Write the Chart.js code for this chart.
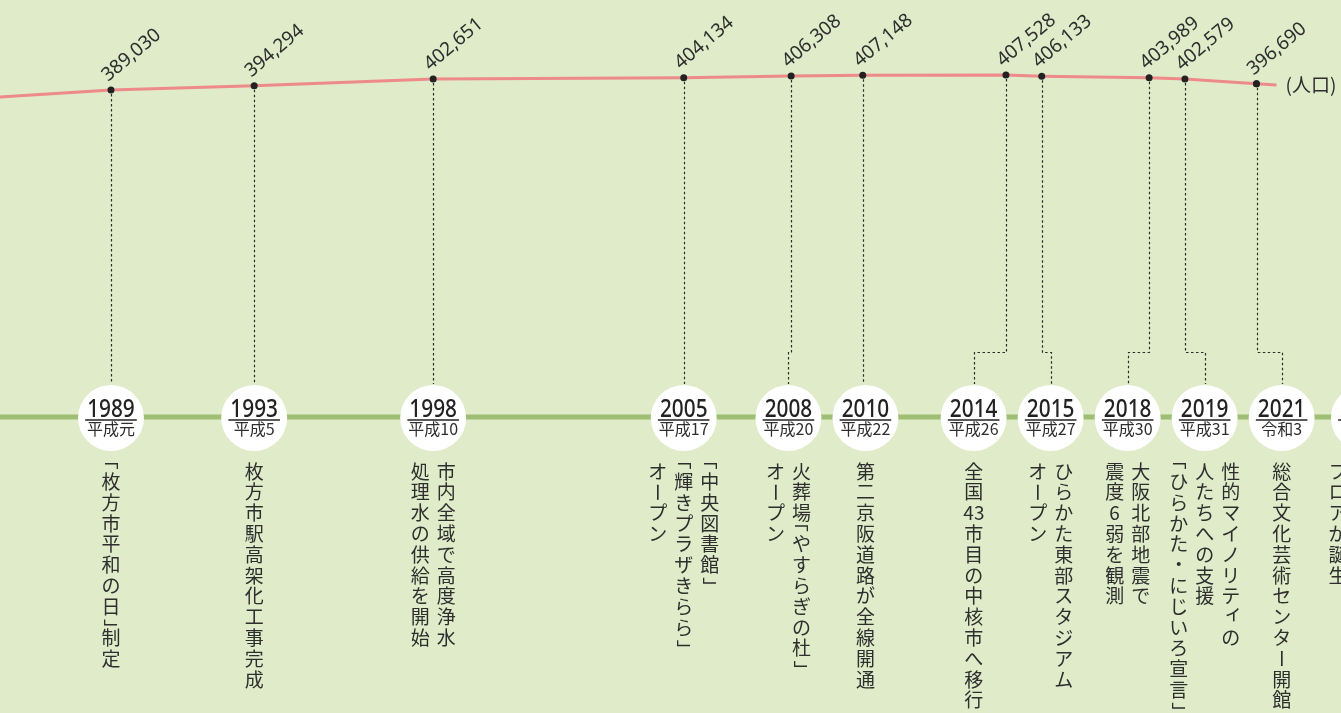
<!DOCTYPE html>
<html lang="ja">
<head>
<meta charset="utf-8">
<title>枚方市のあゆみと人口</title>
<script src="https://cdn.jsdelivr.net/npm/chart.js@4.4.1/dist/chart.umd.min.js"></script>
<style>
  html, body { margin: 0; padding: 0; overflow: hidden; background: #dfebc9; }
  #wrap { position: relative; width: 1341px; height: 713px; }
</style>
</head>
<body>
<div id="wrap"><canvas id="history-chart"></canvas></div>
<script>
// timeline events (years, era names, population on the line, event text lines)
const years = [1989, 1993, 1998, 2005, 2008, 2010, 2014, 2015, 2018, 2019, 2021, 2024];
const eras = ["平成元", "平成5", "平成10", "平成17", "平成20", "平成22", "平成26", "平成27", "平成30", "平成31", "令和3", "令和6"];
const population = [389030, 394294, 402651, 404134, 406308, 407148, 407528, 406133, 403989, 402579, 396690, null];
const events = [
  ["「枚方市平和の日」制定"],
  ["枚方市駅高架化工事完成"],
  ["市内全域で高度浄水", "処理水の供給を開始"],
  ["「中央図書館」", "「輝きプラザきらら」", "オープン"],
  ["火葬場「やすらぎの杜」", "オープン"],
  ["第二京阪道路が全線開通"],
  ["全国43市目の中核市へ移行"],
  ["ひらかた東部スタジアム", "オープン"],
  ["大阪北部地震で", "震度6弱を観測"],
  ["性的マイノリティの", "人たちへの支援", "「ひらかた・にじいろ宣言」"],
  ["総合文化芸術センター開館"],
  ["", "", "フロアが誕生"],
];
// earlier value, off the left edge, so the line enters the picture
const leadYear = 1985;
const leadPopulation = 378000;

const JP_FONT = '"Noto Sans CJK JP", "Noto Sans", sans-serif';
const NUM_FONT = '"Noto Sans", "DejaVu Sans", sans-serif';
const INK = "#2e2e2e";
const LINE_Y = 417;

// push crowded markers apart: groups get evenly spaced around their mean
function layoutMarkers(xs, gap) {
  const groups = xs.map((x) => ({ n: 1, sum: x }));
  let merged = true;
  while (merged) {
    merged = false;
    for (let i = 0; i < groups.length - 1; i++) {
      const a = groups[i];
      const b = groups[i + 1];
      const aLast = a.sum / a.n + ((a.n - 1) * gap) / 2;
      const bFirst = b.sum / b.n - ((b.n - 1) * gap) / 2;
      if (bFirst - aLast < gap) {
        groups.splice(i, 2, { n: a.n + b.n, sum: a.sum + b.sum });
        merged = true;
        break;
      }
    }
  }
  const out = [];
  groups.forEach((g) => {
    const first = g.sum / g.n - ((g.n - 1) * gap) / 2;
    for (let k = 0; k < g.n; k++) out.push(first + k * gap);
  });
  return out;
}

function splitCells(line) {
  const cells = [];
  let i = 0;
  while (i < line.length) {
    const m = /^[0-9]+/.exec(line.slice(i));
    if (m) {
      cells.push(m[0]);
      i += m[0].length;
    } else {
      cells.push(line[i]);
      i++;
    }
  }
  return cells;
}

function drawInkCentered(ctx, text, x, y) {
  const m = ctx.measureText(text);
  const px = x + (m.actualBoundingBoxLeft - m.actualBoundingBoxRight) / 2;
  const py = y + (m.actualBoundingBoxAscent - m.actualBoundingBoxDescent) / 2;
  ctx.fillText(text, px, py);
}

const SMALL_KANA = "ぁぃぅぇぉっゃゅょァィゥェォッャュョ";

// tategaki, one cell per character; brackets and ー are turned a quarter
function drawVertical(ctx, line, x, y0, fs, pitch) {
  ctx.font = `${fs}px ${JP_FONT}`;
  ctx.textAlign = "left";
  ctx.textBaseline = "alphabetic";
  let y = y0;
  splitCells(line).forEach((c) => {
    const half = c === "「" || c === "」";
    const h = half ? pitch / 2 : pitch;
    const cy = y + h / 2;
    if (half || c === "ー") {
      ctx.save();
      ctx.translate(x, cy);
      ctx.rotate(Math.PI / 2);
      drawInkCentered(ctx, c, 0, 0);
      ctx.restore();
    } else if (SMALL_KANA.includes(c)) {
      drawInkCentered(ctx, c, x + fs * 0.1, cy - fs * 0.12);
    } else if (/^[0-9]+$/.test(c)) {
      drawInkCentered(ctx, c, x, cy);
    } else {
      ctx.textAlign = "center";
      ctx.fillText(c, x, cy + fs * 0.38);
      ctx.textAlign = "left";
    }
    y += h;
  });
}

const backgroundPlugin = {
  id: "paper",
  beforeDraw(chart) {
    const { ctx, width, height } = chart;
    ctx.save();
    ctx.fillStyle = "#dfebc9";
    ctx.fillRect(0, 0, width, height);
    ctx.restore();
  },
};

const timelinePlugin = {
  id: "timeline",
  beforeDatasetsDraw(chart) {
    const { ctx, width } = chart;
    const xs = chart.scales.x;
    const ys = chart.scales.y;
    const yearX = years.map((y) => xs.getPixelForValue(y));
    const markerX = layoutMarkers(yearX, 77);
    const r = 33;

    ctx.save();
    // green time axis
    ctx.strokeStyle = "#9cbf73";
    ctx.lineWidth = 5;
    ctx.beginPath();
    ctx.moveTo(0, LINE_Y);
    ctx.lineTo(width, LINE_Y);
    ctx.stroke();

    // dotted leaders from population points to the markers
    ctx.strokeStyle = "#2b2b2b";
    ctx.lineWidth = 1.2;
    ctx.setLineDash([2.5, 2.5]);
    years.forEach((yr, i) => {
      if (population[i] == null) return;
      const px = Math.round(yearX[i]) + 0.5;
      const py = ys.getPixelForValue(population[i]) + 4;
      const mx = Math.round(markerX[i]) + 0.5;
      ctx.beginPath();
      ctx.moveTo(px, py);
      if (Math.abs(mx - px) < 3) {
        ctx.lineTo(px, LINE_Y - r);
      } else {
        ctx.lineTo(px, 352.5);
        ctx.lineTo(mx, 352.5);
        ctx.lineTo(mx, LINE_Y - r);
      }
      ctx.stroke();
    });
    ctx.setLineDash([]);

    years.forEach((yr, i) => {
      const mx = markerX[i];
      ctx.fillStyle = "#ffffff";
      ctx.beginPath();
      ctx.arc(mx, LINE_Y + 1, r, 0, Math.PI * 2);
      ctx.fill();

      ctx.fillStyle = "#222222";
      ctx.textAlign = "center";
      ctx.textBaseline = "alphabetic";
      ctx.font = `500 26px ${NUM_FONT}`;
      const w = ctx.measureText(String(yr)).width * 0.8;
      ctx.save();
      ctx.translate(mx, 417);
      ctx.scale(0.8, 1);
      ctx.fillText(String(yr), 0, 0);
      ctx.restore();

      ctx.strokeStyle = "#222222";
      ctx.lineWidth = 1.4;
      ctx.beginPath();
      ctx.moveTo(mx - w / 2 - 2, 420);
      ctx.lineTo(mx + w / 2 + 2, 420);
      ctx.stroke();

      ctx.font = `16px ${JP_FONT}`;
      ctx.fillStyle = INK;
      ctx.fillText(eras[i], mx, 435);

      // event text, first line is the rightmost column
      const lines = events[i];
      const gap = 26;
      ctx.fillStyle = INK;
      lines.forEach((line, k) => {
        const cx = mx + ((lines.length - 1) * gap) / 2 - k * gap;
        drawVertical(ctx, line, cx, 461, 19, 20.8);
      });
    });
    ctx.restore();
  },
  afterDatasetsDraw(chart) {
    const { ctx } = chart;
    const xs = chart.scales.x;
    const ys = chart.scales.y;
    ctx.save();
    const pts = [];
    years.forEach((yr, i) => {
      if (population[i] == null) return;
      pts.push([xs.getPixelForValue(yr), ys.getPixelForValue(population[i]), population[i]]);
    });

    // short tail of the line toward the unit label
    const [x1, y1] = pts[pts.length - 2];
    const [x2, y2] = pts[pts.length - 1];
    const len = Math.hypot(x2 - x1, y2 - y1);
    const tx = x2 + ((x2 - x1) / len) * 20;
    const ty = y2 + ((y2 - y1) / len) * 20;
    ctx.strokeStyle = "#ee8a8a";
    ctx.lineWidth = 3;
    ctx.beginPath();
    ctx.moveTo(x2, y2);
    ctx.lineTo(tx, ty);
    ctx.stroke();
    ctx.fillStyle = "#222222";
    ctx.beginPath();
    ctx.arc(x2, y2, 3.5, 0, Math.PI * 2);
    ctx.fill();

    ctx.fillStyle = INK;
    ctx.font = `19px ${JP_FONT}`;
    ctx.textAlign = "left";
    ctx.textBaseline = "middle";
    ctx.fillText("(人口)", tx + 9, ty);

    // rotated value labels
    ctx.font = `19px ${NUM_FONT}`;
    ctx.textBaseline = "alphabetic";
    pts.forEach(([px, py, value]) => {
      ctx.save();
      ctx.translate(px - 3, py - 8);
      ctx.rotate((-40 * Math.PI) / 180);
      ctx.fillText(value.toLocaleString("en-US"), 0, 0);
      ctx.restore();
    });
    ctx.restore();
  },
};

const linePoints = [{ x: leadYear, y: leadPopulation }];
years.forEach((yr, i) => {
  if (population[i] != null) linePoints.push({ x: yr, y: population[i] });
});

new Chart(document.getElementById("history-chart"), {
  type: "line",
  data: {
    datasets: [
      {
        label: "人口",
        data: linePoints,
        borderColor: "#ee8a8a",
        borderWidth: 3,
        tension: 0,
        pointRadius: linePoints.map((p, i) => (i === 0 ? 0 : 3.5)),
        pointBackgroundColor: "#222222",
        pointBorderWidth: 0,
        pointHoverRadius: 3.5,
      },
    ],
  },
  options: {
    responsive: true,
    maintainAspectRatio: false,
    animation: false,
    layout: { autoPadding: false, padding: { top: 56.8, bottom: 607.6, left: 0, right: 0 } },
    plugins: { legend: { display: false }, tooltip: { enabled: false } },
    scales: {
      x: { type: "linear", min: 1985.9, max: 2023.36, display: false },
      y: { type: "linear", min: 370000, max: 430000, display: false },
    },
  },
  plugins: [backgroundPlugin, timelinePlugin],
});
</script>
</body>
</html>
